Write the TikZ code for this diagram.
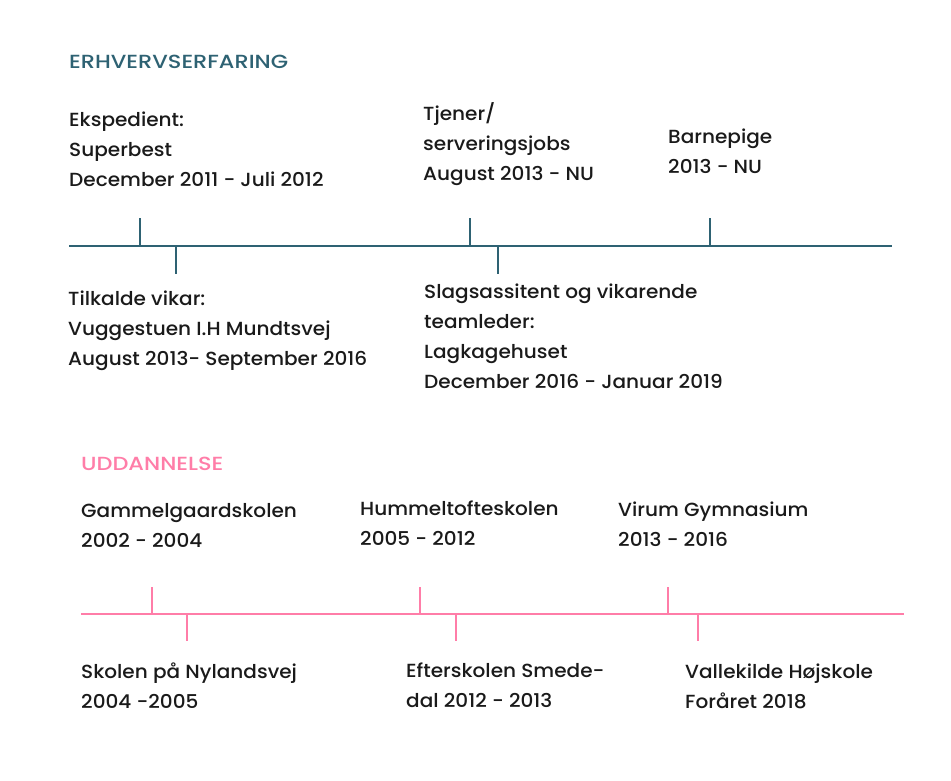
\documentclass[tikz,border=0pt]{standalone}
\usepackage{fontspec}
\setmainfont{Poppins Medium}[FakeStretch=1.055]
\newfontfamily\headfont{Poppins Medium}[FakeStretch=1.18]
\definecolor{teal}{HTML}{2E6273}
\definecolor{pinkc}{HTML}{FF7DA8}
\definecolor{ink}{HTML}{1A1A1A}
\tikzset{
  txt/.style={anchor=base west, inner sep=0pt, text=ink, font=\fontsize{19}{30}\selectfont},
  head/.style={anchor=base west, inner sep=0pt, font=\headfont\fontsize{19}{30}\selectfont},
  tealline/.style={draw=teal, line width=2pt},
  pinkline/.style={draw=pinkc, line width=2pt},
}
\begin{document}
\begin{tikzpicture}[x=1pt,y=-1pt]
\useasboundingbox (0,0) rectangle (951,780);
\fill[white] (0,0) rectangle (951,780);

% ---- Erhvervserfaring ----
\node[head, text=teal] (h1) at (69,68.3) {ERHVERVSERFARING};

\node[txt] (e1) at (69,126.7) {\vtop{\hbox{Ekspedient:}\hbox{Superbest}\hbox{December 2011 - Juli 2012}}};
\node[txt] (e2) at (423,120) {\vtop{\hbox{Tjener/}\hbox{serveringsjobs}\hbox{August 2013 - NU}}};
\node[txt] (e3) at (668,143.5) {\vtop{\hbox{Barnepige}\hbox{2013 - NU}}};
\node[txt] (e4) at (68,305.5) {\vtop{\hbox{Tilkalde vikar:}\hbox{Vuggestuen I.H Mundtsvej}\hbox{August 2013- September 2016}}};
\node[txt] (e5) at (424,298.3) {\vtop{\hbox{Slagsassitent og vikarende}\hbox{teamleder:}\hbox{Lagkagehuset}\hbox{December 2016 - Januar 2019}}};

\coordinate (a0) at (69,246);
\coordinate (a1) at (892,246);
\draw[tealline] (a0) -- (a1);
\coordinate (t1) at (140,246); \coordinate (t1e) at (140,218);
\coordinate (t2) at (470,246); \coordinate (t2e) at (470,218);
\coordinate (t3) at (710,246); \coordinate (t3e) at (710,218);
\coordinate (b1) at (176,246); \coordinate (b1e) at (176,274);
\coordinate (b2) at (498,246); \coordinate (b2e) at (498,274);
\draw[tealline] (t1) -- (t1e);
\draw[tealline] (t2) -- (t2e);
\draw[tealline] (t3) -- (t3e);
\draw[tealline] (b1) -- (b1e);
\draw[tealline] (b2) -- (b2e);

% ---- Uddannelse ----
\node[head, text=pinkc] (h2) at (81,470.7) {UDDANNELSE};

\node[txt] (u1) at (81,517.5) {\vtop{\hbox{Gammelgaardskolen}\hbox{2002 - 2004}}};
\node[txt] (u2) at (360,515.5) {\vtop{\hbox{Hummeltofteskolen}\hbox{2005 - 2012}}};
\node[txt] (u3) at (618,516.5) {\vtop{\hbox{Virum Gymnasium}\hbox{2013 - 2016}}};
\node[txt] (u4) at (81,678.5) {\vtop{\hbox{Skolen på Nylandsvej}\hbox{2004 -2005}}};
\node[txt] (u5) at (406,677.5) {\vtop{\hbox{Efterskolen Smede-}\hbox{dal 2012 - 2013}}};
\node[txt] (u6) at (685,678.5) {\vtop{\hbox{Vallekilde Højskole}\hbox{Foråret 2018}}};

\coordinate (c0) at (81,614);
\coordinate (c1) at (904,614);
\draw[pinkline] (c0) -- (c1);
\coordinate (p1) at (152,614); \coordinate (p1e) at (152,587);
\coordinate (p2) at (420,614); \coordinate (p2e) at (420,587);
\coordinate (p3) at (668,614); \coordinate (p3e) at (668,587);
\coordinate (q1) at (187,614); \coordinate (q1e) at (187,641);
\coordinate (q2) at (456,614); \coordinate (q2e) at (456,641);
\coordinate (q3) at (698,614); \coordinate (q3e) at (698,641);
\draw[pinkline] (p1) -- (p1e);
\draw[pinkline] (p2) -- (p2e);
\draw[pinkline] (p3) -- (p3e);
\draw[pinkline] (q1) -- (q1e);
\draw[pinkline] (q2) -- (q2e);
\draw[pinkline] (q3) -- (q3e);
\end{tikzpicture}
\end{document}
